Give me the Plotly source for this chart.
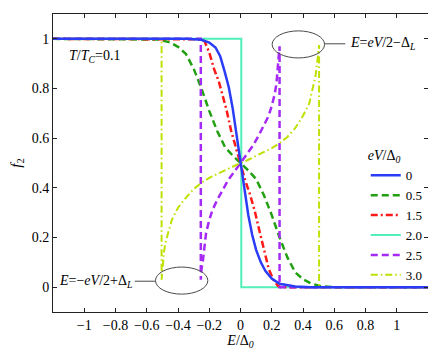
import plotly.graph_objects as go

# f2 distribution, one curve per eV/Delta_0
e_0 = [-1.2, -0.35, -0.25, -0.2, -0.16, -0.13, -0.1, -0.075, -0.05, -0.025, 0, 0.025, 0.05,
       0.075, 0.1, 0.13, 0.16, 0.2, 0.25, 0.35, 0.45, 1.2]
f_0 = [1, 1, 0.996, 0.985, 0.965, 0.93, 0.865, 0.805, 0.72, 0.61, 0.5, 0.39, 0.29,
       0.21, 0.15, 0.1, 0.065, 0.035, 0.014, 0.003, 0, 0]

e_05 = [-1.2, -0.6, -0.52, -0.45, -0.4, -0.35, -0.3, -0.25, -0.2, -0.15, -0.1, -0.05, 0,
        0.05, 0.1, 0.15, 0.2, 0.25, 0.3, 0.35, 0.4, 0.45, 0.52, 0.6, 1.2]
f_05 = [1, 1, 0.997, 0.985, 0.968, 0.94, 0.88, 0.8, 0.71, 0.63, 0.565, 0.53, 0.5,
        0.47, 0.435, 0.37, 0.29, 0.2, 0.12, 0.06, 0.032, 0.015, 0.003, 0, 0]

e_15 = [-1.2, -0.3, -0.25, -0.23, -0.2, -0.17, -0.14, -0.12, -0.09, -0.06, -0.03, 0,
        0.03, 0.06, 0.09, 0.12, 0.15, 0.18, 0.21, 0.24, 0.26, 1.2]
f_15 = [1, 1, 0.998, 0.99, 0.945, 0.88, 0.83, 0.785, 0.715, 0.63, 0.56, 0.5,
        0.43, 0.375, 0.31, 0.23, 0.15, 0.075, 0.03, 0.005, 0, 0]

e_20 = [-1.2, 0.005, 0.005, 1.2]
f_20 = [1, 1, 0, 0]

e_25 = [-1.2, -0.254, -0.254, -0.25, -0.24, -0.23, -0.22, -0.2, -0.18, -0.15, -0.12, -0.08, -0.04, 0,
        0.04, 0.08, 0.12, 0.15, 0.18, 0.2, 0.22, 0.23, 0.24, 0.25, 0.25, 0.25, 1.2]
f_25 = [1, 1, 0.03, 0.07, 0.11, 0.18, 0.22, 0.27, 0.31, 0.35, 0.385, 0.43, 0.465, 0.5,
        0.535, 0.57, 0.615, 0.65, 0.69, 0.73, 0.78, 0.82, 0.89, 0.97, 0.97, 0, 0]

e_30 = [-1.2, -0.505, -0.505, -0.5, -0.49, -0.48, -0.46, -0.44, -0.4, -0.35, -0.3, -0.25, -0.2, -0.12,
        -0.04, 0, 0.04, 0.12, 0.2, 0.25, 0.3, 0.35, 0.4, 0.44, 0.46, 0.48, 0.49, 0.5, 0.503, 0.503, 1.2]
f_30 = [1, 1, 0.03, 0.07, 0.14, 0.18, 0.23, 0.27, 0.32, 0.36, 0.395, 0.42, 0.44, 0.465,
        0.49, 0.5, 0.51, 0.535, 0.56, 0.58, 0.605, 0.64, 0.69, 0.74, 0.79, 0.85, 0.9, 0.95, 0.975, 0, 0]

names = ["0", "0.5", "1.5", "2.0", "2.5", "3.0"]
colors = ["#2a3cf5", "#22a012", "#ff1a1a", "#50f0b8", "#a52af5", "#bfe000"]
dashes = ["solid", "7px,4px", "7px,3px,2px,3px", "solid", "7px,4px", "7px,3px,1.5px,3px"]
widths = [2.5, 2.5, 2.5, 2, 2.5, 2]
curves = [(e_0, f_0), (e_05, f_05), (e_15, f_15), (e_20, f_20), (e_25, f_25), (e_30, f_30)]

x_ticks = [-1, -0.8, -0.6, -0.4, -0.2, 0, 0.2, 0.4, 0.6, 0.8, 1]
x_labels = ["\u22121", "\u22120.8", "\u22120.6", "\u22120.4", "\u22120.2", "0", "0.2", "0.4", "0.6", "0.8", "1"]
y_ticks = [0, 0.2, 0.4, 0.6, 0.8, 1]
y_labels = ["0", "0.2", "0.4", "0.6", "0.8", "1"]

FONT = "'Liberation Serif', 'Times New Roman', Times, serif"

fig = go.Figure()

# blue drawn last so it sits on top, legend order kept by legendrank
draw_order = [3, 1, 2, 4, 5, 0]
for i in draw_order:
    e, f = curves[i]
    fig.add_trace(go.Scatter(
        x=e, y=f, mode="lines", name=names[i], legendrank=i + 1,
        line=dict(color=colors[i], width=widths[i], dash=dashes[i]),
    ))

# ellipses marking the singular points
fig.add_shape(type="circle", xref="x", yref="y", x0=0.2025, x1=0.538, y0=0.923, y1=1.032,
              line=dict(color="#4a4a4a", width=1))
fig.add_shape(type="line", xref="x", yref="y", x0=0.538, x1=0.671, y0=0.98, y1=0.98,
              line=dict(color="#4a4a4a", width=1))
fig.add_shape(type="circle", xref="x", yref="y", x0=-0.544, x1=-0.209, y0=-0.028, y1=0.081,
              line=dict(color="#4a4a4a", width=1))
fig.add_shape(type="line", xref="x", yref="y", x0=-0.677, x1=-0.544, y0=0.024, y1=0.024,
              line=dict(color="#4a4a4a", width=1))

fig.add_annotation(x=0.69, y=0.98, xref="x", yref="y", xanchor="left", yanchor="middle",
                   text="<i>E</i>=<i>eV</i>/2\u2212\u0394<sub><i>L</i></sub>", showarrow=False,
                   font=dict(family=FONT, size=14, color="black"))
fig.add_annotation(x=-0.68, y=0.024, xref="x", yref="y", xanchor="right", yanchor="middle",
                   text="<i>E</i>=\u2212<i>eV</i>/2+\u0394<sub><i>L</i></sub>", showarrow=False,
                   font=dict(family=FONT, size=14, color="black"))
fig.add_annotation(x=-1.11, y=0.93, xref="x", yref="y", xanchor="left", yanchor="middle",
                   text="<i>T</i>/<i>T</i><sub><i>C</i></sub>=0.1", showarrow=False,
                   font=dict(family=FONT, size=14, color="black"))

axis_common = dict(showline=True, linecolor="#222222", linewidth=1, mirror="ticks",
                   ticks="inside", ticklen=4, tickcolor="#222222", showgrid=False, zeroline=False,
                   tickfont=dict(family=FONT, size=14, color="black"))

fig.update_xaxes(range=[-1.2, 1.2], tickvals=x_ticks, ticktext=x_labels,
                 title=dict(text="<i>E</i>/\u0394<sub><i>0</i></sub>", standoff=2,
                            font=dict(family=FONT, size=14, color="black")),
                 **axis_common)
fig.update_yaxes(range=[-0.1, 1.1], tickvals=y_ticks, ticktext=y_labels,
                 title=dict(text="<i>f</i><sub>2</sub>", standoff=8,
                            font=dict(family=FONT, size=15, color="black")),
                 **axis_common)

# the page body keeps an 8px margin, so the margins are shifted to land the axes where the reference has them
fig.update_layout(
    width=436, height=352,
    margin=dict(l=41, r=16, t=5, b=48),
    paper_bgcolor="white", plot_bgcolor="white",
    font=dict(family=FONT, color="black"),
    showlegend=True,
    legend=dict(x=0.834, y=0.57, xanchor="left", yanchor="top", bgcolor="rgba(0,0,0,0)",
                borderwidth=0, font=dict(family=FONT, size=13, color="black"),
                title=dict(text="<i>eV</i>/\u0394<sub><i>0</i></sub>",
                           font=dict(family=FONT, size=14, color="black"))),
)

fig.write_html("out.html")
